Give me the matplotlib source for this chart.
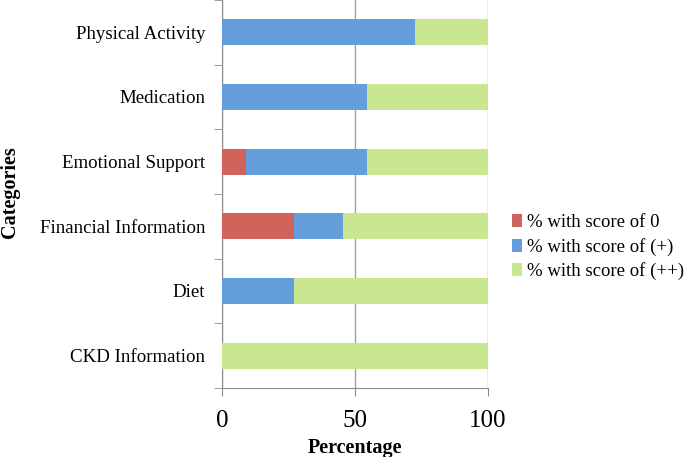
import matplotlib
matplotlib.use("Agg")
import matplotlib.pyplot as plt
import numpy as np

categories = ['CKD Information', 'Diet', 'Financial Information',
              'Emotional Support', 'Medication', 'Physical Activity']
score_0 = [0, 0, 27.3, 9.1, 0, 0]
score_plus = [0, 27.3, 18.2, 45.5, 54.5, 72.7]
score_plusplus = [100, 72.7, 54.5, 45.5, 45.5, 27.3]
series_labels = ['% with score of 0', '% with score of (+)', '% with score of (++)']

plt.rcParams['font.family'] = ['Liberation Serif', 'DejaVu Serif']

fig = plt.figure(figsize=(6.85, 4.57), dpi=100)
ax = fig.add_axes([0.324, 0.151, 0.388, 0.849])

y = np.arange(len(categories))
h = 0.4
left = np.zeros(len(categories))
for vals, col, lab in zip([score_0, score_plus, score_plusplus],
                          ['#d0635c', '#659fdb', '#c9e691'], series_labels):
    ax.barh(y, vals, height=h, left=left, color=col, label=lab, zorder=3)
    left += np.array(vals)

ax.set_xlim(0, 100)
ax.set_ylim(-0.5, len(categories) - 0.5)
ax.set_xticks([0, 50, 100])
ax.set_yticks(y)
ax.set_yticklabels(categories, fontsize=13.6)
ax.set_yticks(np.arange(-0.5, len(categories)), minor=True)
ax.tick_params(axis='y', which='major', length=0, pad=12)
ax.tick_params(axis='y', which='minor', length=6, color='#8c8c8c')
ax.tick_params(axis='x', length=6, color='#8c8c8c', labelsize=18, pad=10)
ax.grid(axis='x', color='#a0a0a0', linewidth=1, zorder=0)

for s in ['top', 'right']:
    ax.spines[s].set_visible(False)
for s in ['left', 'bottom']:
    ax.spines[s].set_color('#8c8c8c')

# axis titles placed by hand, as in the reference
fig.text(0.5 * (0.324 + 0.712), 1 - 448 / 457, 'Percentage', fontsize=14.5,
         fontweight='bold', ha='center', va='center')
fig.text(10 / 685, 1 - 192 / 457, 'Categories', fontsize=14.5,
         fontweight='bold', ha='center', va='center', rotation=90)

ax.legend(loc='center left', bbox_to_anchor=(1.026, 0.363), frameon=False,
          fontsize=13.5, handlelength=0.55, handleheight=0.7, handletextpad=0.3,
          labelspacing=0.35)

fig.savefig('out.png', dpi=100)
